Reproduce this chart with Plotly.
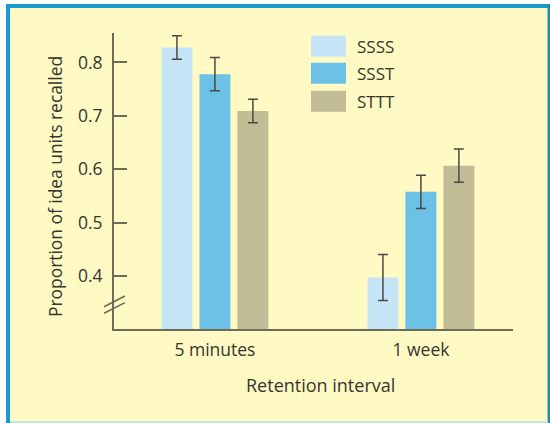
import plotly.graph_objects as go

# ---- data ----
intervals = ["5 minutes", "1 week"]
conditions = ["SSSS", "SSST", "STTT"]
ssss = [0.828, 0.398]
ssst = [0.778, 0.558]
sttt = [0.709, 0.607]
ssss_err = [0.022, 0.043]
ssst_err = [0.031, 0.031]
sttt_err = [0.022, 0.031]
y_ticks = [0.4, 0.5, 0.6, 0.7, 0.8]

values = [ssss, ssst, sttt]
errors = [ssss_err, ssst_err, sttt_err]
colors = ["#c5e5f6", "#6bc1e6", "#c2bd97"]

W, H = 550, 423
L, R, T, B = 114, 513, 33, 329
AX = "#6f6b5a"
TXT = "#36362f"
FONT = "Open Sans"


def px(x):
    return (x - L) / (R - L)


def py(y):
    return (B - y) / (B - T)


xpos = list(range(len(intervals)))

fig = go.Figure()
for name, vals, errs, col in zip(conditions, values, errors, colors):
    fig.add_trace(go.Bar(
        x=xpos, y=vals, name=name,
        marker=dict(color=col, line=dict(width=0)),
        error_y=dict(type="data", array=errs, visible=True,
                     color="#4a4a40", thickness=1.5, width=5),
        showlegend=False,
    ))

shapes = []
# frame background
shapes.append(dict(type="rect", xref="paper", yref="paper", layer="below",
                   x0=px(8), x1=px(548.5), y0=py(6), y1=py(422),
                   fillcolor="#fff9c4", line=dict(width=0)))
# frame borders
shapes.append(dict(type="line", xref="paper", yref="paper", layer="below",
                   x0=px(8), x1=px(8), y0=py(4), y1=py(423),
                   line=dict(color="#1a9bd0", width=4)))
shapes.append(dict(type="line", xref="paper", yref="paper", layer="below",
                   x0=px(6), x1=px(550), y0=py(6), y1=py(6),
                   line=dict(color="#1a9bd0", width=4)))
shapes.append(dict(type="line", xref="paper", yref="paper", layer="below",
                   x0=px(548.8), x1=px(548.8), y0=py(4), y1=py(423),
                   line=dict(color="#1690b5", width=2.5)))
shapes.append(dict(type="line", xref="paper", yref="paper", layer="below",
                   x0=px(10), x1=px(548), y0=py(422.2), y1=py(422.2),
                   line=dict(color="#bfe3d8", width=2)))
# axis break marks
for dy in (0, 6.6):
    shapes.append(dict(type="line", xref="paper", yref="paper",
                       x0=px(104), y0=py(306.7 + dy), x1=px(125), y1=py(296 + dy),
                       line=dict(color=AX, width=1.6)))

# legend swatches
sw_top = [35.7, 62.7, 90.7]
annotations = []
for name, col, t in zip(conditions, colors, sw_top):
    shapes.append(dict(type="rect", xref="paper", yref="paper",
                       x0=px(311), x1=px(346), y0=py(t + 21), y1=py(t),
                       fillcolor=col, line=dict(width=0)))
    annotations.append(dict(xref="paper", yref="paper", x=px(355), y=py(t + 10.5),
                            text=name, showarrow=False, xanchor="left",
                            yanchor="middle",
                            font=dict(family=FONT, size=17, color=TXT)))

annotations.append(dict(xref="paper", yref="paper", x=px(320), y=py(385),
                        text="Retention interval", showarrow=False,
                        xanchor="center", yanchor="middle",
                        font=dict(family=FONT, size=18, color=TXT)))
annotations.append(dict(xref="paper", yref="paper", x=px(55), y=py(187),
                        text="Proportion of idea units recalled", showarrow=False,
                        textangle=-90, xanchor="center", yanchor="middle",
                        font=dict(family=FONT, size=17.4, color=TXT)))

fig.update_layout(
    width=W, height=H,
    margin=dict(l=L, r=W - R, t=T, b=H - B, pad=0),
    paper_bgcolor="white",
    plot_bgcolor="rgba(0,0,0,0)",
    barmode="group",
    bargap=0.447,
    bargroupgap=0.185,
    shapes=shapes,
    annotations=annotations,
    font=dict(family=FONT, size=17, color=TXT),
    xaxis=dict(
        range=[-0.49, 1.447],
        tickvals=xpos, ticktext=intervals,
        showline=True, linecolor=AX, linewidth=2,
        ticks="", showgrid=False, zeroline=False,
        tickfont=dict(family=FONT, size=17.5, color=TXT),
        ticklabelstandoff=4,
        fixedrange=True,
    ),
    yaxis=dict(
        range=[0.3015, 0.855],
        tickvals=y_ticks, ticktext=[f"{v:.1f}" for v in y_ticks],
        showline=True, linecolor=AX, linewidth=2,
        ticks="inside", ticklen=13, tickwidth=1.6, tickcolor=AX,
        showgrid=False, zeroline=False,
        ticklabelstandoff=6,
        tickfont=dict(family=FONT, size=17.5, color=TXT),
        fixedrange=True,
    ),
)

fig.write_html("out.html", config={"displayModeBar": False},
               post_script="document.body.style.margin='0';document.body.style.padding='0';")
